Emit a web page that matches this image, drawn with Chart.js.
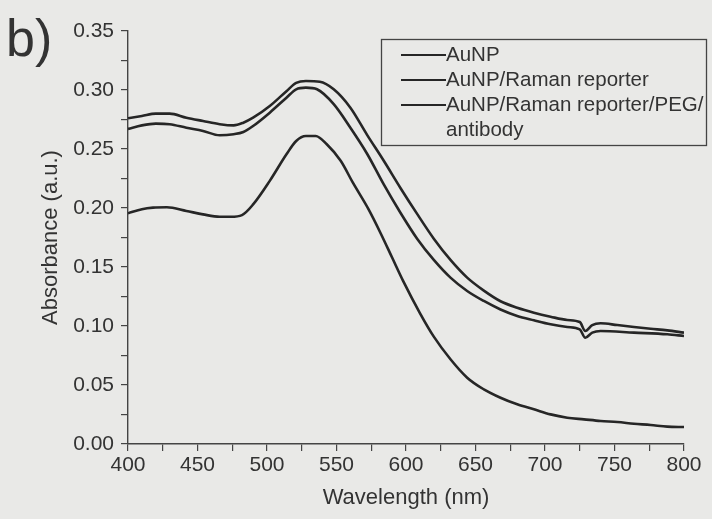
<!DOCTYPE html>
<html><head><meta charset="utf-8">
<script src="https://cdn.jsdelivr.net/npm/chart.js@4/dist/chart.umd.min.js"></script>
<style>html,body{margin:0;padding:0;background:#e9e9e7;}canvas{display:block;}</style>
</head><body>
<canvas id="c" width="712" height="519"></canvas>
<script>
const seriesLabels = ['AuNP', 'AuNP/Raman reporter', 'AuNP/Raman reporter/PEG/antibody'];
const legendLines = [['AuNP'], ['AuNP/Raman reporter'], ['AuNP/Raman reporter/PEG/', 'antibody']];
const panelLabel = 'b)';
const xTitle = 'Wavelength (nm)';
const yTitle = 'Absorbance (a.u.)';

const wavelengthsA = [400,410,420,430,442,454,466,476,483,490,502,514,521,528,538,548,560,572,584,596,608,620,632,644,656,668,680,692,704,716,725,729,734,740,752,764,776,788,800];
const absorbanceA = [0.276,0.278,0.280,0.280,0.2765,0.2737,0.271,0.270,0.2723,0.2765,0.2864,0.299,0.306,0.3076,0.307,0.3006,0.285,0.262,0.240,0.217,0.195,0.174,0.156,0.141,0.130,0.121,0.1155,0.1113,0.1079,0.1051,0.1034,0.0958,0.1008,0.1023,0.1008,0.0992,0.0977,0.0963,0.0944];

const wavelengthsB = [400,410,420,430,442,454,466,476,483,490,502,514,521,528,536,548,560,572,584,596,608,620,632,644,656,668,680,692,704,716,725,729,734,740,764,788,800];
const absorbanceB = [0.267,0.270,0.2715,0.271,0.268,0.2653,0.2616,0.2625,0.2644,0.2695,0.2808,0.2935,0.3006,0.302,0.3006,0.288,0.268,0.246,0.220,0.196,0.174,0.156,0.141,0.1297,0.1212,0.114,0.1085,0.1048,0.1014,0.0992,0.0972,0.0901,0.0944,0.0958,0.0944,0.093,0.0915];

const wavelengthsC = [400,410,418,428,442,454,466,474,482,490,502,514,521,528,535,543,553,562,573,582,590,598,610,620,632,644,656,668,680,692,704,716,728,740,752,764,776,788,800];
const absorbanceC = [0.1955,0.199,0.2003,0.2006,0.1975,0.1946,0.1926,0.1926,0.194,0.203,0.223,0.2455,0.2568,0.261,0.261,0.254,0.24,0.221,0.199,0.178,0.158,0.138,0.111,0.091,0.0718,0.0562,0.0463,0.0392,0.0336,0.0294,0.0251,0.0223,0.0209,0.0195,0.0186,0.0172,0.0161,0.0147,0.0144];

const FONT = '"Liberation Sans", Arial, sans-serif';
const INK = '#333333';
const LINE = '#262626';

function pts(xs, ys) { return xs.map((x, i) => ({x: x, y: ys[i]})); }

const bgPlugin = {
  id: 'bg',
  beforeDraw(chart) {
    const ctx = chart.ctx;
    ctx.save();
    ctx.fillStyle = '#e9e9e7';
    ctx.fillRect(0, 0, chart.width, chart.height);
    ctx.restore();
  }
};

const annotPlugin = {
  id: 'annot',
  afterDraw(chart) {
    const ctx = chart.ctx;
    ctx.save();
    ctx.fillStyle = INK;
    ctx.font = '52px ' + FONT;
    ctx.textBaseline = 'alphabetic';
    ctx.textAlign = 'left';
    ctx.fillText(panelLabel, 6, 56);
    const bx = 381, by = 39, bw = 325, bh = 106;
    ctx.strokeStyle = '#444';
    ctx.lineWidth = 1.3;
    ctx.strokeRect(bx + 0.5, by + 0.5, bw, bh);
    ctx.font = '20.5px ' + FONT;
    ctx.textBaseline = 'middle';
    let row = 0;
    legendLines.forEach((lines) => {
      const y = by + 16 + row * 25;
      ctx.strokeStyle = LINE;
      ctx.lineWidth = 2.2;
      ctx.beginPath();
      ctx.moveTo(401, y);
      ctx.lineTo(446, y);
      ctx.stroke();
      ctx.fillStyle = INK;
      lines.forEach((t, k) => {
        ctx.fillText(t, 446, by + 16 + (row + k) * 25);
      });
      row += lines.length;
    });
    ctx.restore();
  }
};

const ds = (label, xs, ys) => ({
  label: label,
  data: pts(xs, ys),
  borderColor: LINE,
  borderWidth: 2.6,
  pointRadius: 0,
  fill: false,
  cubicInterpolationMode: 'monotone',
  tension: 0.4
});

new Chart(document.getElementById('c'), {
  type: 'line',
  data: {
    datasets: [
      ds(seriesLabels[0], wavelengthsA, absorbanceA),
      ds(seriesLabels[1], wavelengthsB, absorbanceB),
      ds(seriesLabels[2], wavelengthsC, absorbanceC)
    ]
  },
  options: {
    responsive: false,
    animation: false,
    devicePixelRatio: 1,
    layout: {padding: {top: 31, right: 28, left: 0, bottom: 0}},
    plugins: {legend: {display: false}, tooltip: {enabled: false}},
    scales: {
      x: {
        type: 'linear',
        min: 400, max: 800,
        afterFit(s) { s.height = 75; },
        ticks: {
          stepSize: 25, autoSkip: false, maxRotation: 0, padding: 2,
          color: INK, font: {family: FONT, size: 21},
          callback: v => (v % 50 === 0 ? String(v) : '')
        },
        grid: {drawOnChartArea: false, drawTicks: true, tickLength: 7, color: '#444', lineWidth: 1.2},
        border: {display: true, color: '#444', width: 1.4},
        title: {display: true, text: xTitle, color: INK, font: {family: FONT, size: 22}, padding: {top: 0, bottom: 8}}
      },
      y: {
        min: 0, max: 0.35,
        afterFit(s) { s.width = 128; },
        ticks: {
          stepSize: 0.025, autoSkip: false, padding: 7,
          color: INK, font: {family: FONT, size: 21},
          callback: v => (Math.round(v * 1000) % 50 === 0 ? v.toFixed(2) : '')
        },
        grid: {drawOnChartArea: false, drawTicks: true, tickLength: 7, color: '#444', lineWidth: 1.2},
        border: {display: true, color: '#444', width: 1.4},
        title: {display: true, text: yTitle, color: INK, font: {family: FONT, size: 22}, padding: {top: 38, bottom: 0}}
      }
    }
  },
  plugins: [bgPlugin, annotPlugin]
});
</script>
</body></html>
